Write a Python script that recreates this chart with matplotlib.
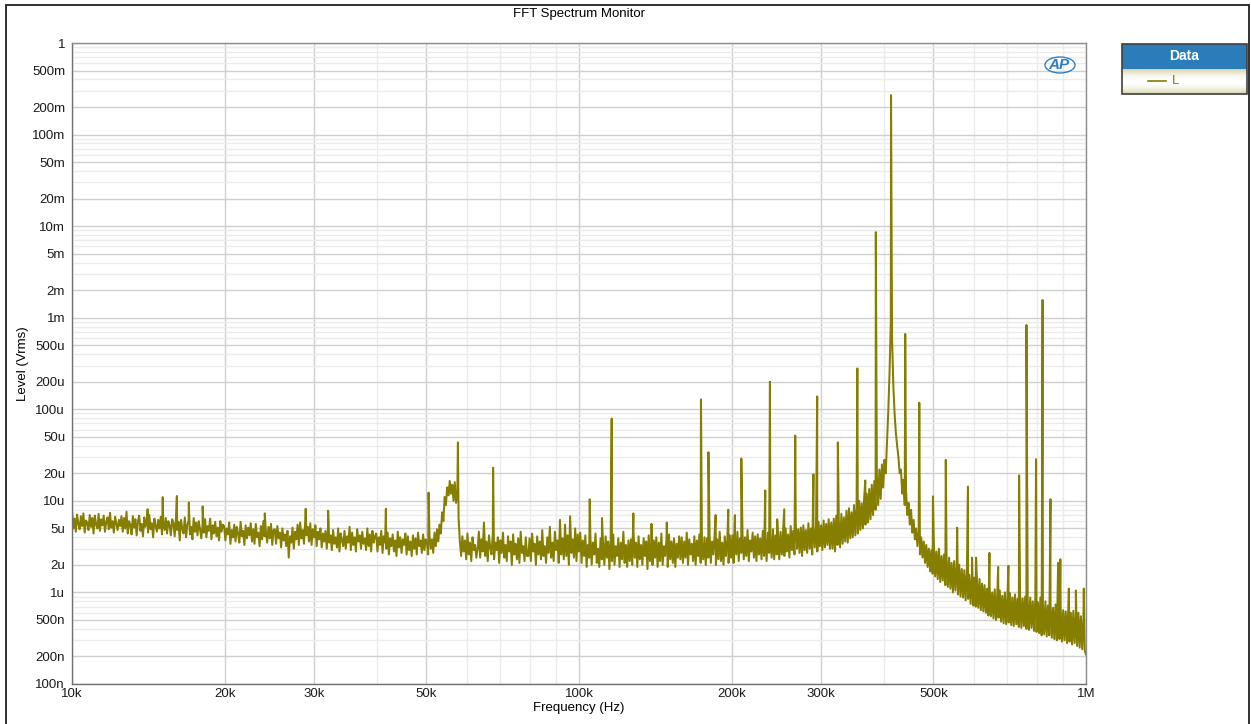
import numpy as np
import matplotlib
matplotlib.use('Agg')
import matplotlib.pyplot as plt
from matplotlib.patches import Rectangle, Ellipse
from matplotlib.ticker import FixedLocator, NullFormatter

# noise floor in uV, one value every 0.0025 decade from 10 kHz up to 1 MHz
# (one row = 0.1 decade)
noise_uv = [
    7.8, 5.0, 6.4, 4.6, 7.1, 5.6, 4.9, 6.8, 5.3, 7.3, 4.5, 6.1, 5.8, 4.8, 7.0, 5.2, 6.5, 4.4, 6.9, 5.5,
    5.0, 7.2, 4.7, 6.3, 5.4, 6.9, 4.6, 5.9, 6.6, 4.9, 7.4, 5.1, 6.0, 4.5, 6.7, 5.6, 4.8, 6.2, 5.3, 6.8,
    4.6, 6.5, 5.0, 7.6, 4.4, 6.0, 5.5, 4.3, 6.8, 5.1, 6.3, 4.2, 5.9, 6.9, 4.7, 5.6, 4.1, 6.6, 5.2, 6.1,
    4.5, 7.0, 4.9, 5.7, 4.0, 6.4, 5.3, 4.6, 6.2, 5.0, 6.7, 4.3, 5.8, 4.8, 6.5, 4.4, 6.0, 5.4, 4.2, 6.3,
    5.7, 4.1, 6.4, 4.8, 5.9, 3.7, 6.2, 5.0, 4.4, 6.6, 4.0, 5.5, 6.1, 4.3, 5.2, 3.8, 6.5, 4.6, 5.8, 4.2,
    6.0, 4.9, 3.9, 5.6, 4.5, 6.3, 4.0, 5.3, 4.7, 6.4, 3.8, 5.4, 4.4, 5.9, 4.1, 5.1, 3.7, 6.0, 4.6, 5.5,
    5.3, 3.7, 5.0, 4.3, 5.8, 3.4, 4.8, 4.0, 5.5, 3.6, 5.2, 4.4, 3.5, 5.9, 4.1, 4.7, 3.3, 5.4, 3.9, 5.1,
    4.2, 5.7, 3.6, 4.9, 3.4, 5.6, 4.0, 4.5, 3.2, 5.3, 3.8, 6.0, 4.1, 4.6, 3.5, 5.2, 3.9, 5.6, 3.3, 4.8,
    4.9, 3.4, 5.3, 3.9, 4.5, 3.1, 5.0, 3.7, 4.3, 3.2, 4.7, 2.4, 4.1, 3.5, 5.1, 3.0, 4.6, 3.8, 5.5, 3.3,
    5.8, 3.9, 4.8, 3.4, 6.0, 4.2, 5.2, 3.6, 5.7, 3.3, 4.9, 4.0, 5.4, 3.2, 4.6, 3.8, 5.0, 3.1, 4.4, 3.6,
    4.7, 3.0, 5.1, 3.5, 4.2, 2.9, 4.8, 3.4, 4.0, 3.1, 5.0, 2.8, 4.4, 3.7, 3.2, 4.7, 3.0, 4.1, 3.5, 5.2,
    2.9, 4.5, 3.3, 4.0, 2.8, 4.9, 3.6, 4.2, 3.0, 4.6, 3.4, 3.9, 2.9, 5.0, 3.2, 4.3, 2.8, 4.7, 3.5, 4.1,
    4.4, 2.8, 4.0, 3.3, 4.7, 2.7, 4.1, 3.5, 3.0, 4.5, 2.6, 3.9, 3.2, 4.3, 2.8, 3.7, 2.5, 4.6, 3.1, 4.0,
    2.7, 3.8, 3.3, 4.4, 2.6, 4.1, 2.9, 3.6, 2.5, 4.2, 3.0, 3.9, 2.6, 4.5, 3.2, 3.7, 2.7, 4.3, 2.9, 3.8,
    3.5, 2.6, 4.2, 3.0, 3.8, 2.7, 4.5, 3.2, 4.9, 3.6, 5.5, 4.4, 7.5, 6.0, 11.0, 9.0, 14.0, 11.5, 16.5, 12.0,
    15.0, 10.0, 16.0, 9.5, 12.0, 6.5, 3.6, 2.5, 4.1, 2.8, 3.7, 2.3, 4.4, 2.6, 3.5, 2.2, 4.0, 2.9, 3.3, 2.4,
    3.0, 4.6, 2.4, 3.8, 2.8, 5.8, 2.5, 3.6, 2.2, 4.2, 3.1, 2.6, 4.4, 2.3, 3.5, 2.9, 4.0, 2.1, 3.7, 2.7,
    4.5, 2.4, 3.3, 2.2, 4.1, 2.8, 3.6, 2.0, 4.3, 2.6, 3.4, 2.3, 3.9, 2.1, 4.6, 2.7, 3.2, 2.2, 4.0, 2.5,
    2.5, 3.9, 2.2, 4.4, 2.8, 3.4, 2.0, 4.1, 2.6, 3.6, 2.3, 4.8, 2.5, 3.2, 2.1, 4.0, 2.7, 5.2, 2.4, 3.5,
    2.2, 4.6, 2.9, 3.7, 2.1, 6.2, 2.6, 3.9, 2.3, 5.5, 2.5, 4.2, 2.0, 6.8, 2.7, 3.8, 2.4, 5.0, 2.2, 4.3,
    2.8, 4.5, 2.1, 3.7, 2.5, 4.2, 1.9, 3.3, 2.4, 4.0, 2.0, 3.5, 2.6, 4.4, 2.1, 3.0, 1.9, 3.9, 2.3, 3.4,
    2.0, 4.1, 2.4, 3.6, 1.8, 3.8, 2.2, 4.3, 2.0, 3.2, 2.5, 3.9, 1.9, 3.5, 2.3, 4.6, 2.1, 3.3, 1.9, 3.7,
    2.2, 3.8, 2.0, 4.6, 2.4, 3.5, 1.9, 4.1, 2.3, 3.3, 2.0, 3.9, 2.5, 3.6, 1.8, 4.2, 2.2, 3.4, 2.0, 3.7,
    2.4, 4.0, 1.9, 3.5, 2.2, 4.4, 2.0, 3.2, 2.5, 3.8, 1.9, 4.3, 2.3, 3.6, 2.1, 3.9, 1.9, 3.4, 2.4, 4.1,
    2.3, 4.0, 2.1, 3.6, 2.4, 4.5, 2.0, 3.8, 2.6, 3.4, 2.2, 4.1, 2.0, 3.7, 2.5, 4.3, 2.1, 3.5, 2.3, 4.0,
    2.0, 3.9, 2.4, 4.4, 2.1, 3.6, 2.6, 4.2, 2.0, 3.8, 2.3, 4.6, 2.2, 3.5, 2.0, 4.1, 2.5, 3.7, 2.1, 4.2,
    2.4, 4.2, 2.1, 3.8, 2.6, 4.6, 2.2, 3.9, 2.7, 4.4, 2.3, 4.0, 2.5, 4.8, 2.2, 3.7, 2.8, 4.5, 2.4, 4.1,
    2.2, 4.3, 2.6, 3.9, 2.3, 4.7, 2.5, 4.0, 2.2, 4.5, 2.7, 3.8, 2.4, 4.9, 2.3, 4.2, 2.6, 4.4, 2.3, 4.6,
    2.6, 4.6, 2.5, 5.0, 2.8, 4.3, 2.4, 5.3, 2.9, 4.7, 2.6, 5.6, 3.0, 4.9, 2.7, 5.1, 2.5, 5.4, 2.9, 4.8,
    2.7, 5.7, 3.0, 5.0, 2.6, 5.5, 3.1, 5.2, 2.8, 5.9, 3.2, 5.4, 2.9, 6.1, 3.1, 5.6, 3.3, 6.3, 3.0, 5.8,
    3.0, 6.4, 2.8, 6.9, 3.3, 6.0, 3.1, 7.2, 3.4, 6.6, 3.6, 7.8, 3.5, 8.3, 3.9, 7.5, 4.0, 9.0, 4.2, 8.6,
    4.4, 10.0, 4.8, 9.4, 5.0, 11.0, 5.5, 12.0, 5.8, 13.5, 6.3, 15.0, 7.0, 16.5, 8.0, 19.0, 9.0, 22.0, 10.5, 25.0,
    14, 28, 20, 45, 95, 250, 900, 600, 180, 90, 55, 40, 30, 20, 22, 12, 17, 9, 13, 7,
    9.5, 5.5, 8, 4.5, 6.2, 3.8, 5.0, 3.2, 4.6, 2.6, 4.0, 2.4, 3.6, 2.1, 3.3, 1.9, 3.0, 1.7, 2.9, 1.6,
    3.3, 1.5, 2.8, 1.4, 3.0, 1.3, 2.5, 1.35, 2.6, 1.2, 2.3, 1.15, 2.4, 1.1, 2.1, 1.0, 2.2, 1.05, 1.9, 0.95,
    2.0, 0.9, 1.8, 0.88, 1.75, 0.82, 1.6, 0.85, 1.55, 0.75, 1.5, 0.72, 1.45, 0.7, 1.35, 0.68, 1.4, 0.64, 1.25, 0.62,
    1.2, 0.6, 1.1, 0.56, 1.15, 0.55, 1.0, 0.52, 1.08, 0.5, 0.95, 0.53, 1.05, 0.48, 0.92, 0.46, 1.0, 0.45, 0.9, 0.47,
    0.98, 0.44, 0.88, 0.43, 0.95, 0.45, 0.85, 0.42, 0.93, 0.41, 0.86, 0.43, 0.9, 0.4, 0.82, 0.39, 0.88, 0.41, 0.8, 0.38,
    0.85, 0.37, 0.78, 0.36, 0.88, 0.34, 0.75, 0.35, 0.8, 0.33, 0.72, 0.34, 0.76, 0.32, 0.68, 0.31, 0.74, 0.3, 0.66, 0.31,
    0.7, 0.29, 0.64, 0.3, 0.62, 0.28, 0.66, 0.29, 0.6, 0.27, 0.63, 0.28, 0.58, 0.26, 0.6, 0.25, 0.55, 0.24, 0.52, 0.23,
    0.21,
]

# discrete spurs (Hz, Vrms)
spur_freq = [14.1e3, 15.1e3, 16.1e3, 17.0e3, 18.1e3, 24.0e3, 28.9e3, 32.0e3, 41.6e3, 50.5e3,
             57.7e3, 67.7e3, 105e3, 111e3, 116e3, 128e3, 139e3, 149e3, 174e3, 180e3,
             186e3, 197e3, 203e3, 209e3, 233e3, 238e3, 246e3, 254e3, 267e3, 290e3,
             295e3, 324e3, 354e3, 367e3, 385e3, 412.5e3, 440e3, 469e3, 499e3, 529e3,
             557e3, 585e3, 596e3, 607e3, 645e3, 671e3, 703e3, 738e3, 763e3, 797e3,
             821e3, 851e3, 881e3, 890e3, 925e3, 955e3, 990e3]
spur_level = [8.1e-6, 11e-6, 11.3e-6, 9.6e-6, 8.7e-6, 7.3e-6, 8.2e-6, 7.8e-6, 8.2e-6, 12.3e-6,
              43.5e-6, 23e-6, 10.4e-6, 6.5e-6, 79e-6, 7.3e-6, 5.6e-6, 5.8e-6, 128e-6, 34e-6,
              7e-6, 8e-6, 7e-6, 29e-6, 13e-6, 200e-6, 6.3e-6, 8.1e-6, 51.6e-6, 19.5e-6,
              138e-6, 43.6e-6, 279e-6, 16.7e-6, 8.6e-3, 270e-3, 665e-6, 118e-6, 11.2e-6, 28e-6,
              5.1e-6, 14.3e-6, 2.4e-6, 2.4e-6, 2.7e-6, 1.9e-6, 1.95e-6, 19e-6, 833e-6, 28.5e-6,
              1.56e-3, 10.4e-6, 2.1e-6, 2.3e-6, 1.1e-6, 1.05e-6, 1.1e-6]

x_ticks = [1e4, 2e4, 3e4, 5e4, 1e5, 2e5, 3e5, 5e5, 1e6]
x_labels = ['10k', '20k', '30k', '50k', '100k', '200k', '300k', '500k', '1M']
y_ticks = [1e-7, 2e-7, 5e-7, 1e-6, 2e-6, 5e-6, 1e-5, 2e-5, 5e-5, 1e-4, 2e-4, 5e-4,
           1e-3, 2e-3, 5e-3, 1e-2, 2e-2, 5e-2, 0.1, 0.2, 0.5, 1]
y_labels = ['100n', '200n', '500n', '1u', '2u', '5u', '10u', '20u', '50u', '100u', '200u', '500u',
            '1m', '2m', '5m', '10m', '20m', '50m', '100m', '200m', '500m', '1']

plt.rcParams['font.family'] = ['Liberation Sans', 'DejaVu Sans']

noise_freq = np.logspace(4, 6, len(noise_uv))
freq = np.concatenate([noise_freq, spur_freq])
level = np.concatenate([np.array(noise_uv) * 1e-6, spur_level])
order = np.argsort(freq)

W, H = 1251, 724
fig = plt.figure(figsize=(W / 100, H / 100), dpi=100)
ax = fig.add_axes([72 / W, 1 - 684 / H, (1086 - 72) / W, (684 - 43) / H])

ax.plot(freq[order], level[order], color='#857e00', lw=1.45)

ax.set_xscale('log')
ax.set_yscale('log')
ax.set_xlim(1e4, 1e6)
ax.set_ylim(1e-7, 1)

ax.xaxis.set_major_locator(FixedLocator(x_ticks))
ax.set_xticklabels(x_labels)
x_minor = [m * 10 ** d for d in (4, 5) for m in (4, 6, 7, 8, 9)]
ax.xaxis.set_minor_locator(FixedLocator(x_minor))
ax.xaxis.set_minor_formatter(NullFormatter())

ax.yaxis.set_major_locator(FixedLocator(y_ticks))
ax.set_yticklabels(y_labels)
y_minor = [m * 10.0 ** d for d in range(-7, 0) for m in (3, 4, 6, 7, 8, 9)]
ax.yaxis.set_minor_locator(FixedLocator(y_minor))
ax.yaxis.set_minor_formatter(NullFormatter())

ax.grid(which='major', color='#cfcfcf', lw=1.0)
ax.grid(which='minor', color='#ebebeb', lw=1.0)
ax.set_axisbelow(True)
ax.tick_params(which='both', length=0, labelsize=9.5, colors='#1a1a1a')
ax.tick_params(axis='y', pad=5)
ax.tick_params(axis='x', pad=3)
for s in ax.spines.values():
    s.set_color('#8c8c8c')
    s.set_linewidth(1.0)
ax.spines['left'].set_color('#707070')
ax.spines['bottom'].set_color('#707070')

ax.set_xlabel('Frequency (Hz)', fontsize=9.5, labelpad=1)
ax.set_ylabel('Level (Vrms)', fontsize=9.5, labelpad=2)
fig.text(579 / W, 1 - 14 / H, 'FFT Spectrum Monitor', ha='center', va='center', fontsize=9.5)

# AP logo
fig.text(1059 / W, 1 - 65 / H, 'AP', ha='center', va='center', fontsize=11,
         fontweight='bold', fontstyle='italic', color='#2f7fc1')
fig.patches.append(Ellipse((1060 / W, 1 - 65 / H), 30 / W, 16 / H, angle=0, fill=False,
                           ec='#2f7fc1', lw=1.0, transform=fig.transFigure))

# legend panel
lax = fig.add_axes([1122 / W, 1 - 94 / H, 125 / W, 50 / H])
lax.set_xlim(0, 1)
lax.set_ylim(0, 1)
lax.axis('off')
grad = np.abs(np.linspace(-1, 1, 40)) ** 2
cream = np.array([0.84, 0.83, 0.66])
white = np.array([1.0, 1.0, 1.0])
img = white[None, :] * (1 - grad[:, None]) + cream[None, :] * grad[:, None]
lax.imshow(img[:, None, :], extent=(0, 1, 0, 0.5), aspect='auto', zorder=1)
lax.add_patch(Rectangle((0, 0.5), 1, 0.5, fc='#2a7db8', ec='none', zorder=2))
lax.add_patch(Rectangle((0, 0), 1, 1, fc='none', ec='#404040', lw=1.2, zorder=3,
                        clip_on=False))
lax.text(0.5, 0.76, 'Data', ha='center', va='center', color='white', fontsize=10,
         fontweight='bold', zorder=4)
lax.plot([0.21, 0.35], [0.26, 0.26], color='#857e00', lw=1.2, zorder=4)
lax.text(0.40, 0.26, 'L', ha='left', va='center', color='#857e00', fontsize=9.5, zorder=4)

# outer frame
fig.patches.append(Rectangle((6 / W, -0.01), (W - 8) / W, 1.01 - 4.5 / H, fill=False,
                             ec='#202020', lw=1.3, transform=fig.transFigure))

fig.savefig('out.png', dpi=100)
